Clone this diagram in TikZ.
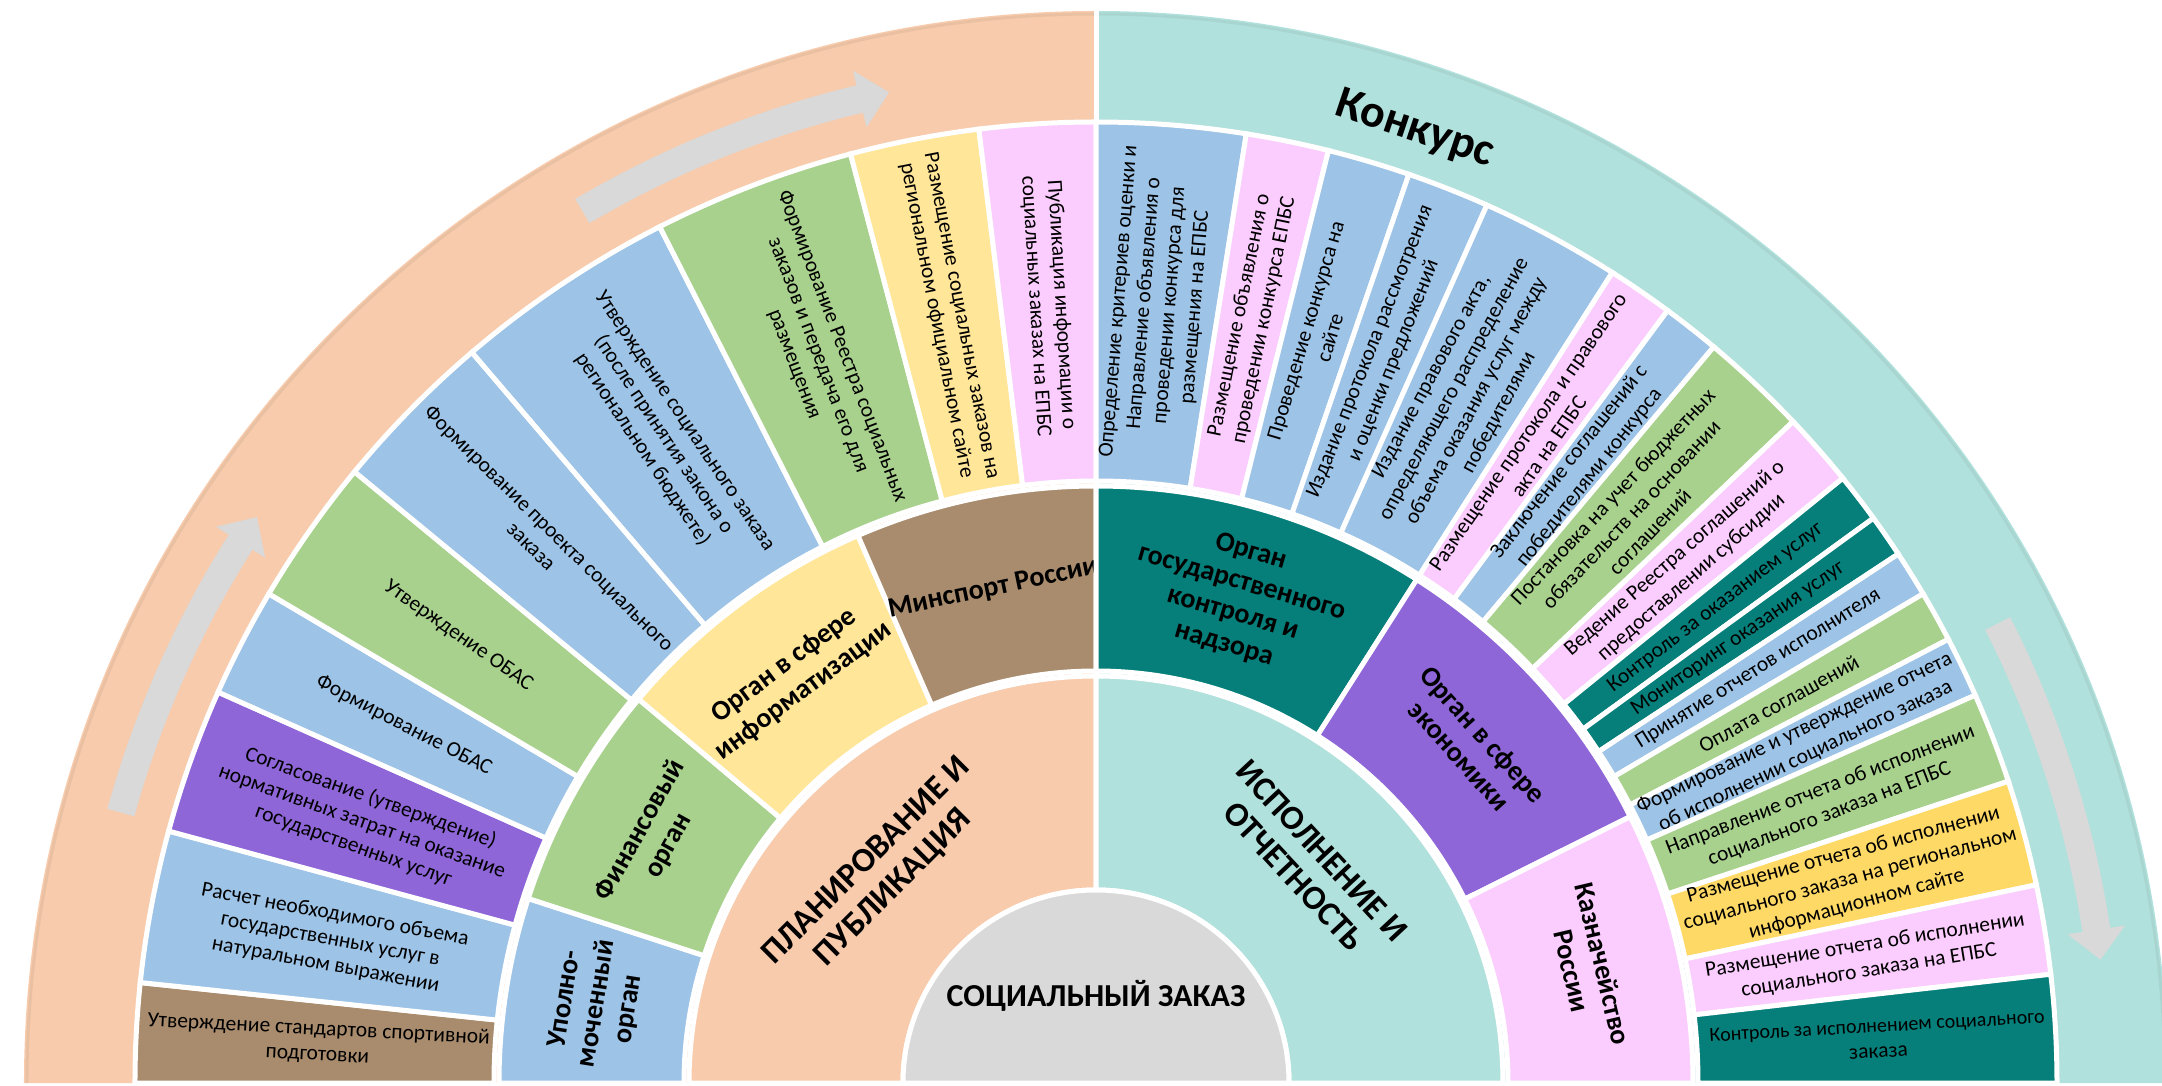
\documentclass[tikz,border=0pt]{standalone}
\usepackage{fontspec}
\setmainfont{Carlito}
\usetikzlibrary{arrows.meta}
\definecolor{peach}{HTML}{F7CBAC}
\definecolor{tealL}{HTML}{B1E1DC}
\definecolor{blueC}{HTML}{9DC3E6}
\definecolor{greenC}{HTML}{A9D18E}
\definecolor{purpleC}{HTML}{8E66D7}
\definecolor{yellowL}{HTML}{FFE699}
\definecolor{yellowD}{HTML}{FFD966}
\definecolor{pinkC}{HTML}{FBCCFE}
\definecolor{brownC}{HTML}{A98C6D}
\definecolor{tealD}{HTML}{067F7A}
\definecolor{grayC}{HTML}{D9D9D9}
\definecolor{arrowC}{HTML}{D9D9D9}
\tikzset{
  segtext/.style={align=center, font=\fontsize{21.5}{25.5}\selectfont, text=black, inner sep=0pt},
  orgtext/.style={align=center, font=\bfseries\fontsize{28}{32}\selectfont, text=black, inner sep=0pt},
  bigtext/.style={align=center, font=\bfseries\fontsize{34}{38}\selectfont, text=black, inner sep=0pt},
  sector/.style={draw=white, line width=5pt, line join=miter},
}
\newcommand\ringsec[5]{%
  \fill[#5, sector] (#3:#1pt) arc[start angle=#3, end angle=#4, radius=#1pt]
     -- (#4:#2pt) arc[start angle=#4, end angle=#3, radius=#2pt] -- cycle;}
\newcommand\lseg[6][779]{%
  \pgfmathsetmacro\midang{(#3+#4)/2}%
  \ringsec{602}{961}{#3}{#4}{#5}%
  \node[segtext, rotate=\midang-180] (#2) at (\midang:#1pt) {#6};}
\newcommand\rseg[6][781]{%
  \pgfmathsetmacro\midang{(#3+#4)/2}%
  \ringsec{602}{961}{#3}{#4}{#5}%
  \node[segtext, rotate=\midang] (#2) at (\midang:#1pt) {#6};}
\newcommand\oseg[6][505]{%
  \pgfmathsetmacro\midang{(#3+#4)/2}%
  \ringsec{412}{597}{#3}{#4}{#5}%
  \node[orgtext, rotate=\midang-90] (#2) at (\midang:#1pt) {#6};}
\newcommand\garrow[3]{%
  \fill[arrowC] (#1:998pt) arc[start angle=#1, end angle=#2, radius=998pt]
    -- (#2:983pt) -- (#3:1012pt) -- (#2:1041pt) -- (#2:1026pt)
    arc[start angle=#2, end angle=#1, radius=1026pt] -- cycle;}
\begin{document}
\begin{tikzpicture}[x=1pt,y=1pt]
\useasboundingbox (-1096pt,-2pt) rectangle (1066pt,1083pt);
% background band
\fill[peach] (0,0) -- (180:1072pt) arc[start angle=180, end angle=90, radius=1072pt] -- cycle;
\fill[tealL] (0,0) -- (90:1072pt) arc[start angle=90, end angle=0, radius=1072pt] -- cycle;
\draw[peach!80!black, opacity=0.25, line width=3pt] (180:1069pt) arc[start angle=180, end angle=90, radius=1069pt];
\draw[tealL!80!black, opacity=0.25, line width=3pt] (90:1069pt) arc[start angle=90, end angle=0, radius=1069pt];
\draw[white, line width=5pt] (0,0) -- (0,1085pt);
% arrows
\garrow{164.5}{147.7}{146}
\garrow{120.5}{103.5}{101.8}
\garrow{27}{8.7}{7}
\node[font=\bfseries\fontsize{46}{50}\selectfont, rotate=-18.5] (konk) at (71.5:1005pt) {Конкурс};
% outer segments, left
\lseg{l1}{174}{180}{brownC}{Утверждение стандартов спортивной\\подготовки}
\lseg{l2}{164.8}{174}{blueC}{Расчет необходимого объема\\государственных услуг в\\натуральном выражении}
\lseg{l3}{156}{164.8}{purpleC}{Согласование (утверждение)\\нормативных затрат на оказание\\государственных услуг}
\lseg{l4}{149.4}{156}{blueC}{Формирование ОБАС}
\lseg{l5}{140.5}{149.4}{greenC}{Утверждение ОБАС}
\lseg{l6}{130.5}{140.5}{blueC}{Формирование проекта социального\\заказа}
\lseg{l7}{117}{130.5}{blueC}{Утверждение социального заказа\\(после принятия закона о\\региональном бюджете)}
\lseg{l8}{104.8}{117}{greenC}{Формирование Реестра социальных\\заказов и передача его для\\размещения}
\lseg{l9}{97}{104.8}{yellowL}{Размещение социальных заказов на\\региональном официальном сайте}
\lseg{l10}{90}{97}{pinkC}{Публикация информации о\\социальных заказах на ЕПБС}
% outer segments, right
\rseg{r1}{81}{90}{blueC}{Определение критериев оценки и\\Направление объявления о\\проведении конкурса для\\размещения на ЕПБС}
\rseg{r2}{76}{81}{pinkC}{Размещение объявления о\\проведении конкурса ЕПБС}
\rseg{r3}{71}{76}{blueC}{Проведение конкурса на\\сайте}
\rseg{r4}{66}{71}{blueC}{Издание протокола рассмотрения\\и оценки предложений}
\rseg{r5}{57.5}{66}{blueC}{Издание правового акта,\\определяющего распределение\\объема оказания услуг между\\победителями}
\rseg{r6}{53.5}{57.5}{pinkC}{Размещение протокола и правового\\акта на ЕПБС}
\rseg{r7}{50}{53.5}{blueC}{Заключение соглашений с\\победителями конкурса}
\rseg{r8}{43.5}{50}{greenC}{Постановка на учет бюджетных\\обязательств на основании\\соглашений}
\rseg{r9}{39}{43.5}{pinkC}{Ведение Реестра соглашений о\\предоставлении субсидии}
\rseg{r10}{36}{39}{tealD}{Контроль за оказанием услуг}
\rseg{r11}{33.4}{36}{tealD}{Мониторинг оказания услуг}
\rseg{r12}{30.6}{33.4}{blueC}{Принятие отчетов исполнителя}
\rseg{r13}{27.5}{30.6}{greenC}{Оплата соглашений}
\rseg{r14}{23.8}{27.5}{blueC}{Формирование и утверждение отчета\\об исполнении социального заказа}
\rseg{r15}{18.3}{23.8}{greenC}{Направление отчета об исполнении\\социального заказа на ЕПБС}
\rseg{r16}{11.9}{18.3}{yellowD}{Размещение отчета об исполнении\\социального заказа на региональном\\информационном сайте}
\rseg{r17}{6.5}{11.9}{pinkC}{Размещение отчета об исполнении\\социального заказа на ЕПБС}
\rseg[783]{r18}{0}{6.5}{tealD}{\fontsize{20}{26}\selectfont Контроль за исполнением социального\\заказа}
% organs
\oseg{o1}{162}{180}{blueC}{Уполно-\\моченный\\орган}
\oseg{o2}{140}{162}{greenC}{Финансовый\\орган}
\oseg{o3}{113.5}{140}{yellowL}{Орган в сфере\\информатизации}
\oseg{o4}{90}{113.5}{brownC}{Минспорт России}
\oseg{o5}{57.5}{90}{tealD}{Орган\\государственного\\контроля и\\надзора}
\oseg{o6}{26.5}{57.5}{purpleC}{Орган в сфере\\экономики}
\oseg{o7}{0}{26.5}{pinkC}{Казначейство\\России}
% inner ring
\ringsec{193}{407}{90}{180}{peach}
\ringsec{193}{407}{0}{90}{tealL}
\node[bigtext, rotate=45] (plan) at (136:300pt) {ПЛАНИРОВАНИЕ И\\ПУБЛИКАЦИЯ};
\node[bigtext, rotate=-47] (isp) at (46:305pt) {ИСПОЛНЕНИЕ И\\ОТЧЕТНОСТЬ};
% centre
\fill[grayC, sector] (193pt,0) arc[start angle=0, end angle=180, radius=193pt] -- cycle;
\node[font=\bfseries\fontsize{32}{35}\selectfont] (soc) at (0,87pt) {СОЦИАЛЬНЫЙ ЗАКАЗ};
\end{tikzpicture}
\end{document}
